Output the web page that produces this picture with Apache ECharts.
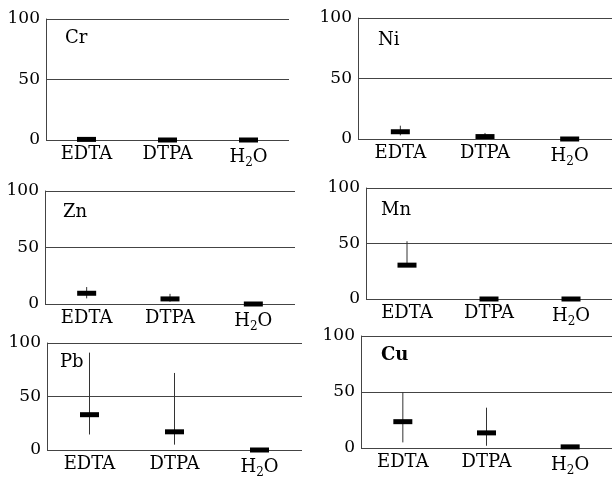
<!DOCTYPE html>
<html>
<head>
<meta charset="utf-8">
<script src="https://cdn.jsdelivr.net/npm/echarts@6/dist/echarts.min.js"></script>
<style>
  html, body { margin: 0; padding: 0; background: #fff; }
  #chart { width: 612px; height: 479px; }
</style>
</head>
<body>
<div id="chart"></div>
<script>
var categories = ['EDTA', 'DTPA', 'H2O']
var yTicks = [0, 50, 100]

// mean, lower whisker, upper whisker per metal
var crMean = [0.5, 0, 0]
var crLow = [0.5, 0, 0]
var crHigh = [0.5, 0, 0]

var niMean = [6, 2, 0]
var niLow = [3, 1.5, 0]
var niHigh = [11, 5, 0]

var znMean = [9.5, 4.5, 0]
var znLow = [5, 2, 0]
var znHigh = [15, 9, 0]

var mnMean = [30.5, 0, 0]
var mnLow = [30.5, 0, 0]
var mnHigh = [52, 1, 0]

var pbMean = [33, 17, 0]
var pbLow = [14.5, 5, 0]
var pbHigh = [91, 72, 0]

var cuMean = [23.5, 13.5, 1]
var cuLow = [5, 2, 1]
var cuHigh = [50, 36, 1]

var font = 'DejaVu Serif'

var panels = [
  { name: 'Cr', mean: crMean, low: crLow, high: crHigh, grid: { left: 46, top: 19, width: 243, height: 121 }, title: { left: 65, top: 29 } },
  { name: 'Ni', mean: niMean, low: niLow, high: niHigh, grid: { left: 358, top: 18, width: 254, height: 121 }, title: { left: 378, top: 31 } },
  { name: 'Zn', mean: znMean, low: znLow, high: znHigh, grid: { left: 45, top: 191, width: 250, height: 113 }, title: { left: 63, top: 203 } },
  { name: 'Mn', mean: mnMean, low: mnLow, high: mnHigh, grid: { left: 366, top: 188, width: 246, height: 111 }, title: { left: 381, top: 201 } },
  { name: 'Pb', mean: pbMean, low: pbLow, high: pbHigh, grid: { left: 47, top: 343, width: 255, height: 110 }, title: { left: 60, top: 353 } },
  { name: 'Cu', mean: cuMean, low: cuLow, high: cuHigh, grid: { left: 361, top: 336, width: 251, height: 112 }, title: { left: 381, top: 346 }, bold: true }
]

var chart = echarts.init(document.getElementById('chart'))

var grids = [], xAxes = [], yAxes = [], titles = [], series = []

panels.forEach(function (p, i) {
  grids.push(p.grid)
  titles.push({
    text: p.name,
    left: p.title.left,
    top: p.title.top,
    padding: 0,
    textStyle: { fontFamily: font, fontSize: 18, fontWeight: p.bold ? 'bold' : 'normal', color: '#000' }
  })
  xAxes.push({
    type: 'category',
    gridIndex: i,
    data: categories,
    axisLine: { show: false },
    axisTick: { show: false },
    axisLabel: {
      margin: 5,
      interval: 0,
      color: '#000',
      formatter: function (v) {
        return v === 'H2O' ? '{a|H}{s|2}{a|O}' : '{a|' + v + '}'
      },
      rich: {
        a: { fontFamily: font, fontSize: 18, color: '#000' },
        s: { fontFamily: font, fontSize: 12, color: '#000', padding: [12, 0, 0, 0] }
      }
    }
  })
  yAxes.push({
    type: 'value',
    gridIndex: i,
    min: yTicks[0],
    max: yTicks[yTicks.length - 1],
    interval: 50,
    axisLine: { show: true, lineStyle: { color: '#444', width: 1 } },
    axisTick: { show: false },
    splitLine: { show: true, lineStyle: { color: '#444', width: 1 } },
    axisLabel: { margin: 6, color: '#000', fontFamily: font, fontSize: 17 }
  })
  series.push({
    type: 'custom',
    xAxisIndex: i,
    yAxisIndex: i,
    data: categories.map(function (c, k) { return [k, p.low[k], p.high[k]] }),
    renderItem: function (params, api) {
      var a = api.coord([api.value(0), api.value(1)])
      var b = api.coord([api.value(0), api.value(2)])
      return {
        type: 'line',
        shape: { x1: a[0], y1: a[1], x2: b[0], y2: b[1] },
        style: { stroke: '#333', lineWidth: 1 }
      }
    },
    z: 2
  })
  series.push({
    type: 'scatter',
    xAxisIndex: i,
    yAxisIndex: i,
    data: p.mean,
    symbol: 'rect',
    symbolSize: [19, 5],
    itemStyle: { color: '#000', opacity: 1 },
    clip: false,
    z: 3
  })
})

chart.setOption({
  animation: false,
  backgroundColor: '#fff',
  title: titles,
  grid: grids,
  xAxis: xAxes,
  yAxis: yAxes,
  series: series
})
</script>
</body>
</html>
